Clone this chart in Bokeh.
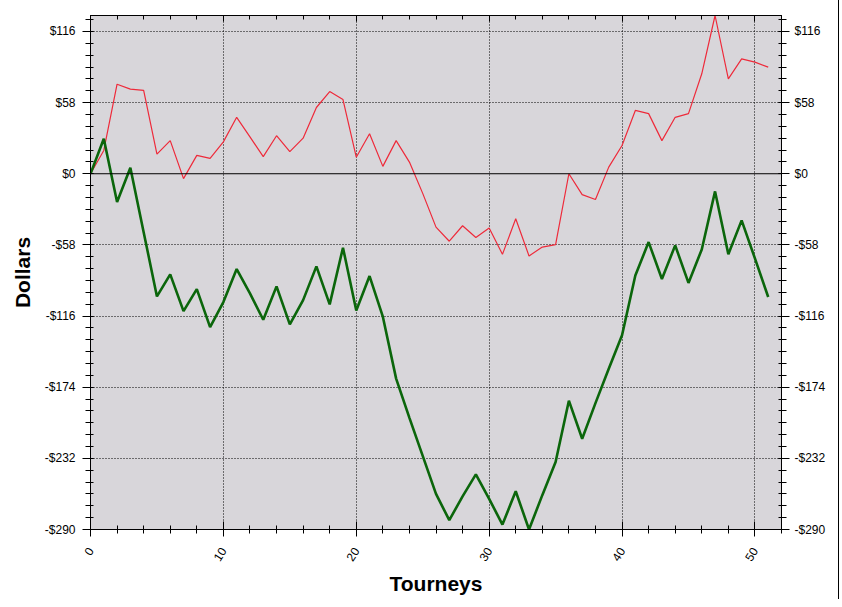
from bokeh.plotting import figure
from bokeh.models import Range1d, LinearAxis, FixedTicker, Span
from bokeh.embed import file_html
from bokeh.resources import INLINE

# ---- data ----
tourneys = list(range(52))
red_dollars = [0, 19, 73, 69, 68, 16, 27, -4, 15, 12.5,
               26, 46, 30, 14, 31, 18, 29, 54, 67, 60.5,
               13.5, 32.6, 6, 27, 9.5, -16, -43.5, -55, -42.4, -52,
               -44.3, -65.7, -36.7, -67, -59.8, -57.8, 0, -17, -21, 5.4,
               23, 51.6, 49, 27, 46, 49, 81.5, 129, 77.4, 93.7,
               91, 86.9]
green_dollars = [0, 28.5, -23, 4.9, -47.6, -100, -82, -112, -94, -125,
                 -104.6, -77.7, -97.5, -119, -91.8, -122.8, -103, -75.5, -106.5, -60.3,
                 -111.4, -83.4, -116.5, -167, -199, -230, -261, -282.4, -263, -245,
                 -265, -286, -258.8, -290, -262, -235, -185, -216, -187, -159,
                 -131.7, -83, -55.7, -85.8, -58.4, -89, -61.7, -14.4, -65.7, -38,
                 -69, -100.5]
x_ticks = [0, 10, 20, 30, 40, 50]
x_minor = list(range(0, 53, 2))
y_ticks = [-290, -232, -174, -116, -58, 0, 58, 116]
y_minor = [-290 + i * 58 / 6 for i in range(0, 44)]
y_labels = {t: ("-$" if t < 0 else "$") + str(abs(t)) for t in y_ticks}
x_labels = {t: str(t) for t in x_ticks}

FONT = "Liberation Sans"

p = figure(frame_width=691, frame_height=514,
           x_range=Range1d(0, 52), y_range=Range1d(-290, 129),
           output_backend="svg", toolbar_location=None,
           min_border_left=90, min_border_right=57, min_border_top=15, min_border_bottom=70,
           background_fill_color="#D8D6DA", border_fill_color="white",
           x_axis_label="Tourneys", y_axis_label="Dollars")
p.outline_line_color = "black"
p.styles = {"border-right": "1px solid black"}

# grids
p.xgrid.ticker = FixedTicker(ticks=x_ticks[1:])
p.ygrid.ticker = FixedTicker(ticks=[t for t in y_ticks if t != 0])
for g in (p.xgrid, p.ygrid):
    g.grid_line_color = "black"
    g.grid_line_dash = "1 2"
    g.grid_line_width = 1

xt = FixedTicker(ticks=x_ticks, minor_ticks=x_minor)
yt = FixedTicker(ticks=y_ticks, minor_ticks=y_minor)

def style_axis(ax, ticker, overrides):
    ax.ticker = ticker
    ax.major_label_overrides = overrides
    ax.axis_line_color = "black"
    ax.major_tick_line_color = "black"
    ax.minor_tick_line_color = "black"
    ax.major_label_text_font = FONT
    ax.major_label_text_font_size = "12px"
    ax.major_label_text_color = "black"
    ax.axis_label_text_font = FONT
    ax.axis_label_text_font_style = "bold"
    ax.axis_label_text_font_size = "21px"
    ax.axis_label_text_color = "black"

# bottom x axis
xa = p.xaxis[0]
style_axis(xa, xt, x_labels)
xa.major_tick_in = 8
xa.major_tick_out = 7
xa.minor_tick_in = 4
xa.minor_tick_out = 4
xa.major_label_orientation = 1.0
xa.major_label_standoff = 12
xa.axis_label_standoff = 4

# left y axis
ya = p.yaxis[0]
style_axis(ya, yt, y_labels)
ya.major_tick_in = 3
ya.major_tick_out = 8
ya.minor_tick_in = 3
ya.minor_tick_out = 5
ya.major_label_standoff = 7
ya.axis_label_standoff = 8

# right y axis
ra = LinearAxis()
style_axis(ra, FixedTicker(ticks=y_ticks, minor_ticks=y_minor), y_labels)
ra.major_tick_in = 3
ra.major_tick_out = 8
ra.minor_tick_in = 3
ra.minor_tick_out = 5
ra.major_label_standoff = 5
p.add_layout(ra, "right")

# top x axis (ticks only)
ta = LinearAxis()
style_axis(ta, FixedTicker(ticks=x_ticks, minor_ticks=x_minor), {t: "" for t in x_ticks})
ta.major_tick_in = 6
ta.major_tick_out = 0
ta.minor_tick_in = 4
ta.minor_tick_out = 0
ta.major_label_text_font_size = "0px"
ta.major_label_standoff = 0
p.add_layout(ta, "above")

# zero line
p.add_layout(Span(location=0, dimension="width", line_color="black", line_width=1))

p.line(tourneys, red_dollars, line_color="#EE2A3A", line_width=1.2)
p.line(tourneys, green_dollars, line_color="#0B660B", line_width=2.6)

open("out.html", "w").write(file_html(p, INLINE))
